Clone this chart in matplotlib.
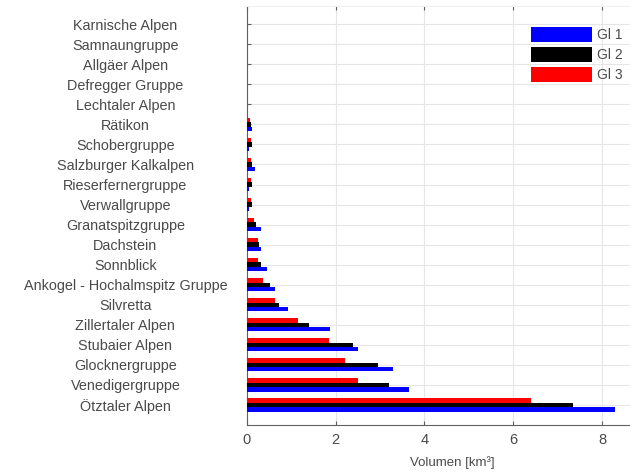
import numpy as np
import matplotlib.pyplot as plt

##------------------------------##
##   GLETSCHERVOLUMEN DATEN     ##
##------------------------------##
# von unten nach oben (Index 0 = Ötztaler Alpen)
gruppen = ["Ötztaler Alpen", "Venedigergruppe", "Glocknergruppe", "Stubaier Alpen",
           "Zillertaler Alpen", "Silvretta", "Ankogel - Hochalmspitz Gruppe",
           "Sonnblick", "Dachstein", "Granatspitzgruppe", "Verwallgruppe",
           "Rieserfernergruppe", "Salzburger Kalkalpen", "Schobergruppe",
           "Rätikon", "Lechtaler Alpen", "Defregger Gruppe", "Allgäer Alpen",
           "Samnaungruppe", "Karnische Alpen"]
gi1 = [8.3, 3.65, 3.3, 2.5, 1.87, 0.92, 0.63, 0.45, 0.31, 0.32, 0.05,
       0.05, 0.19, 0.05, 0.12, 0.0, 0.0, 0.0, 0.0, 0.0]
gi2 = [7.35, 3.2, 2.95, 2.4, 1.39, 0.73, 0.52, 0.31, 0.27, 0.21, 0.12,
       0.12, 0.12, 0.12, 0.10, 0.0, 0.0, 0.0, 0.0, 0.0]
gi3 = [6.4, 2.5, 2.2, 1.85, 1.15, 0.63, 0.36, 0.25, 0.25, 0.15, 0.08,
       0.08, 0.08, 0.08, 0.07, 0.0, 0.0, 0.0, 0.0, 0.0]
serien = ["Gl 1", "Gl 2", "Gl 3"]
farben = ["#0000ff", "#000000", "#ff0000"]

plt.rcParams['font.family'] = ['Liberation Sans', 'DejaVu Sans']

fig = plt.figure(figsize=(6.3, 4.73), dpi=100)
ax = fig.add_axes([0.392, 0.1015, 0.634, 0.8855])

y = np.arange(len(gruppen))
h = 0.22
for i, (werte, name, c) in enumerate(zip([gi1, gi2, gi3], serien, farben)):
    ax.barh(y + (i - 1) * h, werte, height=h, color=c, label=name, zorder=3)

ax.set_xlim(0, 9)
ax.set_ylim(-1, 19.9)
ax.set_xticks([0, 2, 4, 6, 8])
ax.set_yticks(y)
ax.set_yticklabels(gruppen)
ax.grid(True, color="#e6e6e6", linewidth=0.8, zorder=0)

for lab in ax.get_yticklabels():
    lab.set_horizontalalignment('center')
ax.tick_params(axis='y', pad=87.5, labelsize=10.4, labelcolor="#4a4a4a",
               direction='in', length=3, color="#606060")
ax.tick_params(axis='x', labelsize=10.5, labelcolor="#4a4a4a", direction='in',
               length=3, color="#606060", top=True, pad=6)
for s in ['left', 'bottom']:
    ax.spines[s].set_color("#606060")
ax.spines['top'].set_color("#f0f0f0")
ax.spines['right'].set_visible(False)

ax.set_xlabel("Volumen [km³]", fontsize=9.5, color="#4a4a4a", labelpad=3)
ax.xaxis.set_label_coords((452 - 247) / (0.634 * 630), -0.075)

leg = ax.legend(loc='upper right', bbox_to_anchor=((628 - 247) / (0.634 * 630), (425 - 21) / 419),
                frameon=False, fontsize=10, handlelength=4.4, handleheight=1.3,
                labelspacing=0.35, handletextpad=0.3, borderaxespad=0)
for t in leg.get_texts():
    t.set_color("#4a4a4a")

plt.savefig("out.png", dpi=100)
